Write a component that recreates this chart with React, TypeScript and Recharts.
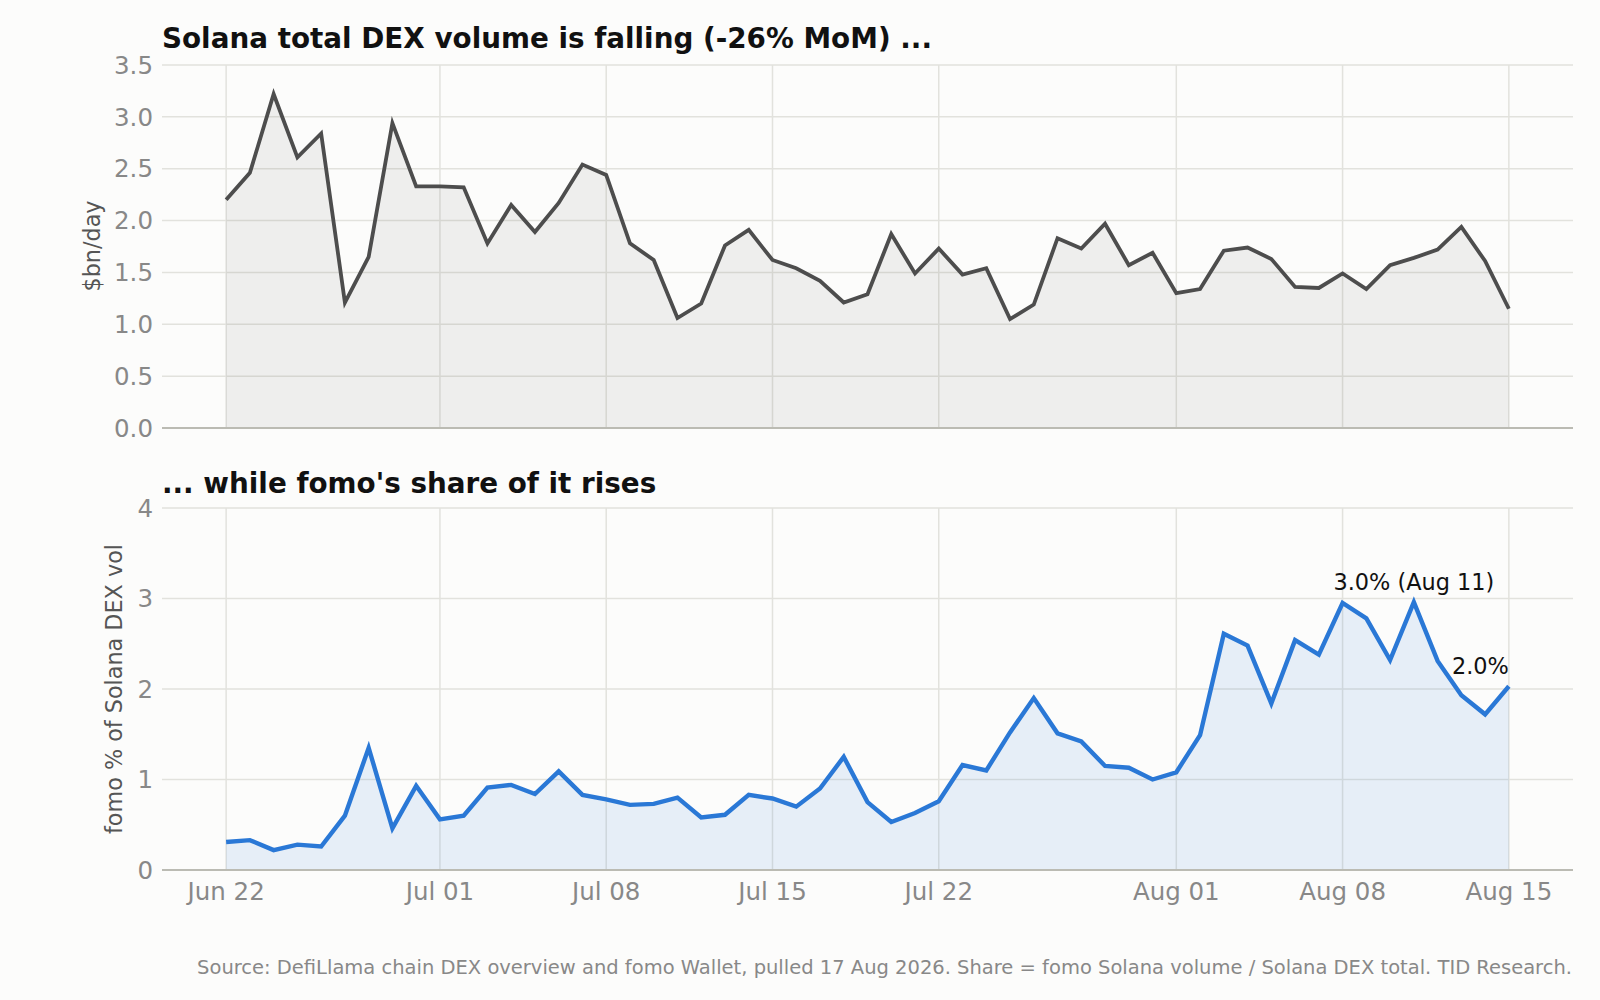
import React from 'react';
import { ComposedChart, Area, XAxis, YAxis, CartesianGrid, ReferenceDot } from 'recharts';

// daily values, Jun 22 .. Aug 15
const volumeBn = [
  2.20, 2.46, 3.22, 2.61, 2.84, 1.21, 1.65, 2.94, 2.33,
  2.33, 2.32, 1.78, 2.15, 1.89, 2.17, 2.54, 2.44, 1.78, 1.62,
  1.06, 1.20, 1.76, 1.91, 1.62, 1.54, 1.42, 1.21, 1.29, 1.87,
  1.49, 1.73, 1.48, 1.54, 1.05, 1.19, 1.83, 1.73, 1.97, 1.57,
  1.69, 1.30, 1.34, 1.71, 1.74, 1.63, 1.36, 1.35, 1.49, 1.34,
  1.57, 1.64, 1.72, 1.94, 1.61, 1.15,
];

const fomoShare = [
  0.31, 0.33, 0.22, 0.28, 0.26, 0.60, 1.35, 0.46, 0.93,
  0.56, 0.60, 0.91, 0.94, 0.84, 1.09, 0.83, 0.78, 0.72, 0.73,
  0.80, 0.58, 0.61, 0.83, 0.79, 0.70, 0.90, 1.25, 0.75, 0.53,
  0.63, 0.76, 1.16, 1.10, 1.52, 1.90, 1.51, 1.42, 1.15, 1.13,
  1.00, 1.08, 1.49, 2.61, 2.48, 1.84, 2.54, 2.38, 2.95, 2.78,
  2.32, 2.96, 2.31, 1.93, 1.72, 2.03,
];

const tickDays = [0, 9, 16, 23, 30, 40, 47, 54];
const tickLabels = ['Jun 22', 'Jul 01', 'Jul 08', 'Jul 15', 'Jul 22', 'Aug 01', 'Aug 08', 'Aug 15'];
const volumeTicks = [0, 0.5, 1, 1.5, 2, 2.5, 3, 3.5];
const shareTicks = [0, 1, 2, 3, 4];

const notes = [
  { day: 50, text: '3.0% (Aug 11)', anchor: 'middle' },
  { day: 54, text: '2.0%', anchor: 'end' },
];

const data = volumeBn.map((v, i) => ({ day: i, volume: v, share: fomoShare[i] }));

const FONT = '"DejaVu Sans", sans-serif';
const BG = '#fcfcfb';
const GRID = '#e2e2dd';
const SPINE = '#bbbbb3';
const TICK = '#888888';
const X_DOMAIN = [-2.7, 56.7];
const TICK_FONT = 24.5;

const tickFmt = (d: number) => tickLabels[tickDays.indexOf(d)] ?? '';

const noteLabel = (text: string, anchor: string) => (props: any) => {
  const vb = props.viewBox || {};
  const cx = (vb.x ?? 0) + (vb.width ?? 0) / 2;
  const cy = (vb.y ?? 0) + (vb.height ?? 0) / 2;
  return (
    <text x={cx} y={cy - 12} textAnchor={anchor} fontSize={22.4} fontFamily={FONT} fill="#111">
      {text}
    </text>
  );
};

const titleStyle: React.CSSProperties = {
  position: 'absolute',
  left: 162,
  fontSize: 27.8,
  fontWeight: 'bold',
  lineHeight: 1,
  color: '#111',
  whiteSpace: 'nowrap',
};

const yLabelStyle: React.CSSProperties = {
  position: 'absolute',
  transform: 'translate(-50%, -50%) rotate(-90deg)',
  fontSize: 22.3,
  lineHeight: 1,
  color: '#555',
  whiteSpace: 'nowrap',
};

export default function App() {
  return (
    <div style={{ position: 'absolute', left: 0, top: 0, width: 1600, height: 1000, background: BG, fontFamily: FONT }}>
      <div style={{ ...titleStyle, top: 25 }}>Solana total DEX volume is falling (-26% MoM) ...</div>
      <div style={{ ...yLabelStyle, left: 92, top: 246 }}>$bn/day</div>
      <div style={{ position: 'absolute', left: 0, top: 0 }}>
        <ComposedChart width={1600} height={450} data={data} margin={{ top: 65, right: 27, bottom: 20, left: 0 }}>
          <CartesianGrid stroke={GRID} strokeWidth={1.5} verticalValues={tickDays} horizontalValues={volumeTicks} />
          <XAxis
            type="number"
            dataKey="day"
            domain={X_DOMAIN}
            ticks={tickDays}
            tickFormatter={() => ''}
            tickLine={false}
            height={2}
            axisLine={{ stroke: SPINE, strokeWidth: 2 }}
          />
          <YAxis
            domain={[0, 3.5]}
            ticks={volumeTicks}
            tickFormatter={(v: number) => v.toFixed(1)}
            axisLine={false}
            tickLine={false}
            tickMargin={3}
            width={162}
            tick={{ fill: TICK, fontSize: TICK_FONT, fontFamily: FONT }}
          />
          <Area
            type="linear"
            dataKey="volume"
            stroke="#4d4d4d"
            strokeWidth={3.8}
            fill="#4d4d4d"
            fillOpacity={0.08}
            dot={false}
            activeDot={false}
            isAnimationActive={false}
          />
        </ComposedChart>
      </div>

      <div style={{ ...titleStyle, top: 470 }}>... while fomo's share of it rises</div>
      <div style={{ ...yLabelStyle, left: 114, top: 689 }}>fomo % of Solana DEX vol</div>
      <div style={{ position: 'absolute', left: 0, top: 450 }}>
        <ComposedChart width={1600} height={470} data={data} margin={{ top: 58, right: 27, bottom: 0, left: 0 }}>
          <CartesianGrid stroke={GRID} strokeWidth={1.5} verticalValues={tickDays} horizontalValues={shareTicks} />
          <XAxis
            type="number"
            dataKey="day"
            domain={X_DOMAIN}
            ticks={tickDays}
            tickFormatter={tickFmt}
            tickLine={false}
            tickMargin={7}
            height={50}
            axisLine={{ stroke: SPINE, strokeWidth: 2 }}
            tick={{ fill: TICK, fontSize: TICK_FONT, fontFamily: FONT }}
          />
          <YAxis
            domain={[0, 4]}
            ticks={shareTicks}
            axisLine={false}
            tickLine={false}
            tickMargin={3}
            width={162}
            tick={{ fill: TICK, fontSize: TICK_FONT, fontFamily: FONT }}
          />
          <Area
            type="linear"
            dataKey="share"
            stroke="#2a78d6"
            strokeWidth={4.4}
            fill="#2a78d6"
            fillOpacity={0.1}
            dot={false}
            activeDot={false}
            isAnimationActive={false}
          />
          {notes.map((n) => (
            <ReferenceDot
              key={n.text}
              x={n.day}
              y={fomoShare[n.day]}
              r={0}
              fill="none"
              stroke="none"
              label={noteLabel(n.text, n.anchor)}
            />
          ))}
        </ComposedChart>
      </div>

      <div
        style={{
          position: 'absolute',
          right: 28,
          top: 958,
          fontSize: 19.5,
          lineHeight: 1,
          color: '#888',
          whiteSpace: 'nowrap',
        }}
      >
        Source: DefiLlama chain DEX overview and fomo Wallet, pulled 17 Aug 2026. Share = fomo Solana volume / Solana DEX total. TID Research.
      </div>
    </div>
  );
}
